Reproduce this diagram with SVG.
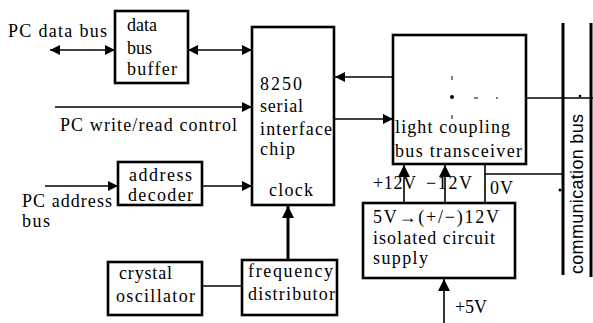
<svg xmlns="http://www.w3.org/2000/svg" width="593" height="323" viewBox="0 0 593 323">
  <style>
    .box { fill: #fff; stroke: #000; stroke-width: 2.6; }
    .ln { fill: none; stroke: #000; stroke-width: 1.6; }
    .thick { fill: none; stroke: #000; stroke-width: 3; }
    .bus { fill: none; stroke: #000; stroke-width: 3; }
    text { font-family: "Liberation Serif", "Times New Roman", serif; font-size: 18px; fill: #000; }
    text.sans { font-family: "Liberation Sans", Arial, sans-serif; }
  </style>
  <defs>
    <marker id="ah" viewBox="0 0 10 10" refX="10" refY="5" markerWidth="10" markerHeight="10" markerUnits="userSpaceOnUse" orient="auto-start-reverse">
      <path d="M0,0 L10,5 L0,10 Z" fill="#000"/>
    </marker>
    <marker id="ahb" viewBox="0 0 10 10" refX="10" refY="5" markerWidth="12" markerHeight="12" markerUnits="userSpaceOnUse" orient="auto">
      <path d="M0,0 L10,5 L0,10 Z" fill="#000"/>
    </marker>
  </defs>

  <!-- connectors -->
  <g id="connectors">
    <line class="ln" x1="50" y1="50" x2="115" y2="50" marker-start="url(#ah)" marker-end="url(#ah)"/>
    <line class="ln" x1="188" y1="50" x2="252" y2="50" marker-start="url(#ah)" marker-end="url(#ah)"/>
    <line class="ln" x1="55" y1="107" x2="252" y2="107" marker-end="url(#ah)"/>
    <line class="ln" x1="45" y1="186" x2="118" y2="186" marker-end="url(#ah)"/>
    <line class="ln" x1="202" y1="186" x2="252" y2="186" marker-end="url(#ah)"/>
    <line class="ln" x1="393" y1="77" x2="335" y2="77" marker-end="url(#ah)"/>
    <line class="ln" x1="334" y1="119" x2="393" y2="119" marker-end="url(#ah)"/>
    <line class="ln" x1="526" y1="98" x2="593" y2="98"/>
    <polyline class="ln" points="485,164 485,174 562,174"/>
    <line class="ln" x1="485" y1="174" x2="485" y2="203"/>
    <line class="ln" x1="404" y1="203" x2="404" y2="165" marker-end="url(#ahb)"/>
    <line class="ln" x1="445" y1="203" x2="445" y2="165" marker-end="url(#ahb)"/>
    <line class="ln" x1="444" y1="323" x2="444" y2="279" marker-end="url(#ahb)"/>
    <line class="thick" x1="288" y1="260" x2="288" y2="206" marker-end="url(#ahb)"/>
    <line class="ln" x1="202" y1="286" x2="242" y2="286"/>
  </g>

  <!-- communication bus -->
  <g id="communication-bus">
    <line class="bus" x1="563" y1="23" x2="563" y2="275"/>
    <line class="bus" x1="591" y1="23" x2="591" y2="277"/>
    <circle cx="560" cy="190" r="1.5" fill="#000"/>
    <circle cx="580" cy="96" r="1.3" fill="#000"/>
    <text class="sans" transform="translate(583,274) rotate(-90)" textLength="160">communication bus</text>
  </g>

  <!-- outer labels -->
  <g id="labels">
    <text x="8" y="37" textLength="99">PC data bus</text>
    <text x="60" y="131" textLength="177">PC write/read control</text>
    <text x="22" y="207" textLength="90">PC address</text>
    <text x="22" y="227" textLength="28">bus</text>
    <text x="373" y="189" textLength="43">+12V</text>
    <text x="426" y="189" textLength="46">−12V</text>
    <text x="490" y="194" textLength="23">0V</text>
    <text x="455" y="313" textLength="32">+5V</text>
  </g>

  <g id="data-bus-buffer">
    <rect class="box" x="115" y="11" width="73" height="72"/>
    <text x="127" y="31">data</text>
    <text x="127" y="54">bus</text>
    <text x="127" y="75" textLength="50">buffer</text>
  </g>

  <g id="address-decoder">
    <rect class="box" x="118" y="162" width="84" height="43"/>
    <text x="129" y="181" textLength="63">address</text>
    <text x="128" y="201" textLength="65">decoder</text>
  </g>

  <g id="serial-chip">
    <rect class="box" x="252" y="27" width="82" height="178"/>
    <text x="260" y="90" textLength="42">8250</text>
    <text x="260" y="112" textLength="43">serial</text>
    <text x="260" y="135" textLength="72">interface</text>
    <text x="260" y="155" textLength="35">chip</text>
    <text x="269" y="196" textLength="44">clock</text>
  </g>

  <g id="light-coupling">
    <rect class="box" x="393" y="35" width="133" height="129"/>
    <line x1="452" y1="76" x2="452" y2="80" stroke="#000" stroke-width="1"/>
    <circle cx="452" cy="97" r="2" fill="#000"/>
    <line x1="474" y1="98" x2="478" y2="98" stroke="#000" stroke-width="1"/>
    <line x1="496" y1="98" x2="498" y2="98" stroke="#000" stroke-width="1"/>
    <line x1="452" y1="115" x2="452" y2="119" stroke="#000" stroke-width="1"/>
    <text x="395" y="133" textLength="115">light coupling</text>
    <text x="395" y="157" textLength="127">bus transceiver</text>
  </g>

  <g id="isolated-supply">
    <rect class="box" x="363" y="203" width="152" height="75"/>
    <text x="373" y="223" textLength="126">5V→(+/−)12V</text>
    <text x="373" y="244" textLength="122">isolated circuit</text>
    <text x="373" y="264" textLength="55">supply</text>
  </g>

  <g id="crystal-oscillator">
    <rect class="box" x="108" y="262" width="94" height="53"/>
    <text x="119" y="279" textLength="53">crystal</text>
    <text x="116" y="302" textLength="79">oscillator</text>
  </g>

  <g id="frequency-distributor">
    <rect class="box" x="242" y="260" width="95" height="55"/>
    <text x="248" y="277" textLength="85">frequency</text>
    <text x="248" y="300" textLength="87">distributor</text>
  </g>
</svg>
